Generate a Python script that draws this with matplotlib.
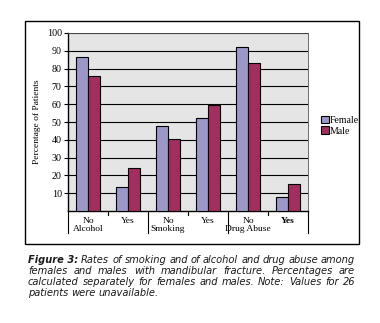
import matplotlib
matplotlib.use("Agg")
import matplotlib.pyplot as plt
import numpy as np
from matplotlib.patches import Rectangle

categories = ["No\nAlcohol", "Yes", "No\nSmoking", "Yes", "No\nDrug Abuse", "Yes"]
female = [86.5, 13.5, 47.8, 52.2, 92.1, 7.9]
male = [75.8, 24.2, 40.4, 59.6, 83.3, 15.4]
yticks = [10, 20, 30, 40, 50, 60, 70, 80, 90, 100]
series_names = ["Female", "Male"]
ylabel = "Percentage of Patients"
caption_lines = [
    "Rates of smoking and of alcohol and drug abuse among",
    "females and males with mandibular fracture. Percentages are",
    "calculated separately for females and males. Note: Values for 26",
    "patients were unavailable.",
]
caption_bold = "Figure 3:"

W, H = 380, 323
fig = plt.figure(figsize=(W / 100, H / 100), dpi=100)
serif = ["Liberation Serif", "DejaVu Serif"]
cap_font = ["DejaVu Sans"]

# outer frame
fig.patches.append(Rectangle((25 / W, 1 - 244 / H), (359 - 25) / W, (244 - 21) / H,
                             transform=fig.transFigure, fill=False, lw=1.0,
                             edgecolor="black"))

ax = fig.add_axes([68 / W, 1 - 211 / H, 240 / W, 178 / H])
ax.set_facecolor("#e5e5e5")
x = np.arange(len(categories))
bw = 0.3
fc, mc = "#9b98c8", "#a02f60"
ax.bar(x - bw / 2, female, bw, color=fc, edgecolor="black", lw=0.8, label=series_names[0], zorder=3)
ax.bar(x + bw / 2, male, bw, color=mc, edgecolor="black", lw=0.8, label=series_names[1], zorder=3)
ax.set_xlim(-0.5, len(categories) - 0.5)
ax.set_ylim(0, 100)
ax.set_yticks(yticks)
ax.set_yticklabels([str(v) for v in yticks], fontfamily=serif, fontsize=7.2)
ax.yaxis.grid(True, color="black", lw=0.8, zorder=1)
ax.tick_params(axis="y", length=3, width=0.8, pad=1.5)
ax.set_xticks(x)
ax.set_xticklabels([])
ax.tick_params(axis="x", length=0)
for i, lab in enumerate(categories):
    ax.text(i, -3.5, lab, transform=ax.transData,
            ha="center", va="top", fontfamily=serif, fontsize=6.8,
            fontweight="bold" if i == len(categories) - 1 else "normal",
            linespacing=1.0, clip_on=False)
# separators
trans = ax.get_xaxis_transform()
for b in np.arange(-0.5, len(categories), 1.0):
    gi = int(b + 0.5)
    if gi % 2 == 0:
        ax.plot([b, b], [0, -22 / 178], transform=trans, color="black", lw=0.8, clip_on=False)
    else:
        ax.plot([b, b], [0, -4 / 178], transform=trans, color="black", lw=0.8, clip_on=False)
for s in ["left", "bottom"]:
    ax.spines[s].set_linewidth(1.0)
for s in ["top", "right"]:
    ax.spines[s].set_linewidth(0.6)
    ax.spines[s].set_color("#555555")
ax.set_ylabel(ylabel, fontfamily=serif, fontsize=6.8, labelpad=4)

leg = fig.legend(loc="upper left", bbox_to_anchor=(316 / W, 1 - 111 / H), frameon=False,
                 prop={"family": serif, "size": 7}, handlelength=0.8, handleheight=0.8,
                 handletextpad=0.1, labelspacing=0.15, borderpad=0)

# caption, justified
fig.canvas.draw()
r = fig.canvas.get_renderer()
left, right = 28, 355
ys = [263, 274, 285, 296]
fs = 7.1
for li, (line, yy) in enumerate(zip(caption_lines, ys)):
    words = line.split(" ")
    items = []
    if li == 0:
        items.append((caption_bold, "bold"))
    items += [(w, "normal") for w in words]
    texts = []
    for w, wt in items:
        t = fig.text(0, 1 - yy / H, w, fontfamily=cap_font, fontsize=fs, style="italic",
                     fontweight=wt, va="baseline", ha="left", color="#1a1a1a")
        texts.append(t)
    widths = [t.get_window_extent(r).width for t in texts]
    last = li == len(caption_lines) - 1
    if last:
        sp = fs * 0.3 * 100 / 72
    else:
        sp = ((right - left) - sum(widths)) / (len(texts) - 1)
    cx = left
    for t, w in zip(texts, widths):
        t.set_x(cx / W)
        cx += w + sp

fig.savefig("out.png", dpi=100)
